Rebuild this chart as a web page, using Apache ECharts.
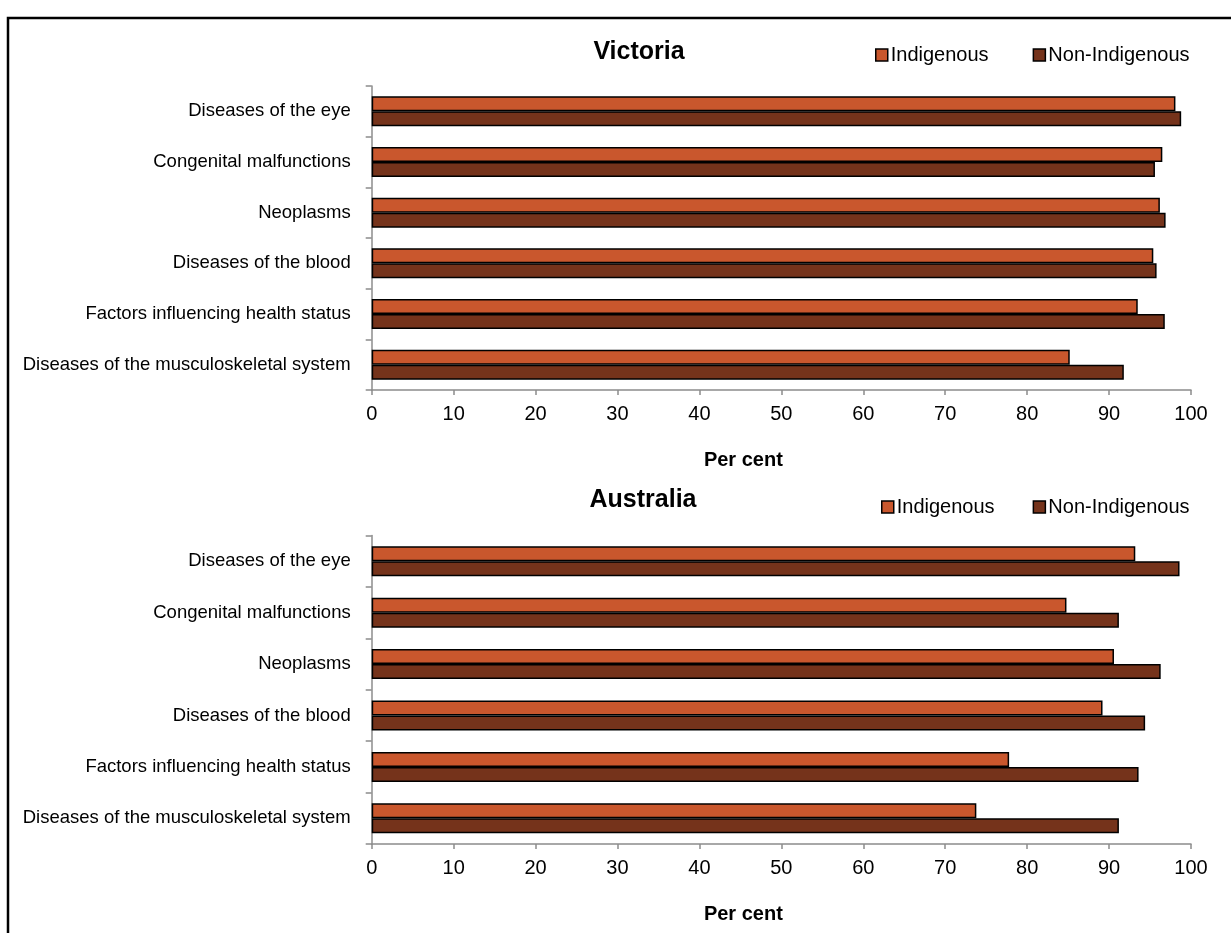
<!DOCTYPE html>
<html>
<head>
<meta charset="utf-8">
<script src="https://cdn.jsdelivr.net/npm/echarts@6/dist/echarts.min.js"></script>
<style>
html,body{margin:0;padding:0;background:#fff;}
#chart{width:1231px;height:933px;}
</style>
</head>
<body>
<div id="chart"></div>
<script>
const categories = [
  'Diseases of the eye',
  'Congenital malfunctions',
  'Neoplasms',
  'Diseases of the blood',
  'Factors influencing health status',
  'Diseases of the musculoskeletal system'
];
const seriesNames = ['Indigenous', 'Non-Indigenous'];
const vicIndigenous = [98.1, 96.5, 96.2, 95.4, 93.5, 85.2];
const vicNonIndigenous = [98.8, 95.6, 96.9, 95.8, 96.8, 91.8];
const ausIndigenous = [93.2, 84.8, 90.6, 89.2, 77.8, 73.8];
const ausNonIndigenous = [98.6, 91.2, 96.3, 94.4, 93.6, 91.2];
const panelTitles = ['Victoria', 'Australia'];
const axisName = 'Per cent';

const FONT = '"Liberation Sans", Arial, sans-serif';
const colInd = '#C9572D';
const colNon = '#75331B';
const axisGrey = '#8c8c8c';

const chart = echarts.init(document.getElementById('chart'), null, {renderer: 'canvas'});

function xAxis(gi) {
  return {
    type: 'value', gridIndex: gi, min: 0, max: 100, interval: 10,
    splitLine: {show: false},
    axisLine: {show: true, lineStyle: {color: axisGrey, width: 1.5}},
    axisTick: {show: true, length: 5, lineStyle: {color: axisGrey, width: 1.5}},
    axisLabel: {color: '#000', fontSize: 20, fontFamily: FONT, margin: 14},
    name: axisName, nameLocation: 'middle', nameGap: 60,
    nameTextStyle: {color: '#000', fontSize: 20, fontWeight: 'bold', fontFamily: FONT, padding: [0, 76, 0, 0]}
  };
}
function yAxis(gi) {
  return {
    type: 'category', gridIndex: gi, data: categories, inverse: true,
    axisLine: {show: true, lineStyle: {color: axisGrey, width: 1.5}},
    axisTick: {show: true, length: 6, lineStyle: {color: axisGrey, width: 1.5}},
    axisLabel: {color: '#000', fontSize: 18.5, fontFamily: FONT, margin: 21},
    splitLine: {show: false}
  };
}
function bar(name, data, gi, color) {
  return {
    type: 'bar', name: name, data: data, xAxisIndex: gi, yAxisIndex: gi,
    barWidth: 15, barGap: '0%',
    itemStyle: {color: color, borderColor: '#000', borderWidth: 1.5},
    emphasis: {disabled: true},
    animation: false
  };
}
function legend(top, left, gap) {
  return {
    top: top, left: left, itemGap: gap, itemWidth: 12, itemHeight: 12, icon: 'rect',
    itemStyle: {borderColor: '#000', borderWidth: 1.5},
    textStyle: {color: '#000', fontSize: 20, fontFamily: FONT, lineHeight: 24, padding: [0, 0, 0, -2]},
    data: seriesNames
  };
}

chart.setOption({
  animation: false,
  backgroundColor: '#fff',
  graphic: [{
    type: 'rect', shape: {x: 8, y: 18, width: 1400, height: 1200},
    style: {fill: 'none', stroke: '#000', lineWidth: 2.5}, silent: true
  }],
  title: [
    {text: panelTitles[0], left: 634, top: 32, textAlign: 'center',
     textStyle: {fontSize: 25, fontWeight: 'bold', fontFamily: FONT, color: '#000', lineHeight: 30}},
    {text: panelTitles[1], left: 638, top: 480, textAlign: 'center',
     textStyle: {fontSize: 25, fontWeight: 'bold', fontFamily: FONT, color: '#000', lineHeight: 30}}
  ],
  legend: [legend(38, 870, 44), legend(490, 876, 38)],
  grid: [
    {left: 371.7, right: 40, top: 86, height: 304},
    {left: 371.7, right: 40, top: 535.5, height: 308.5}
  ],
  xAxis: [xAxis(0), xAxis(1)],
  yAxis: [yAxis(0), yAxis(1)],
  series: [
    bar(seriesNames[0], vicIndigenous, 0, colInd),
    bar(seriesNames[1], vicNonIndigenous, 0, colNon),
    bar(seriesNames[0], ausIndigenous, 1, colInd),
    bar(seriesNames[1], ausNonIndigenous, 1, colNon)
  ]
});
</script>
</body>
</html>
